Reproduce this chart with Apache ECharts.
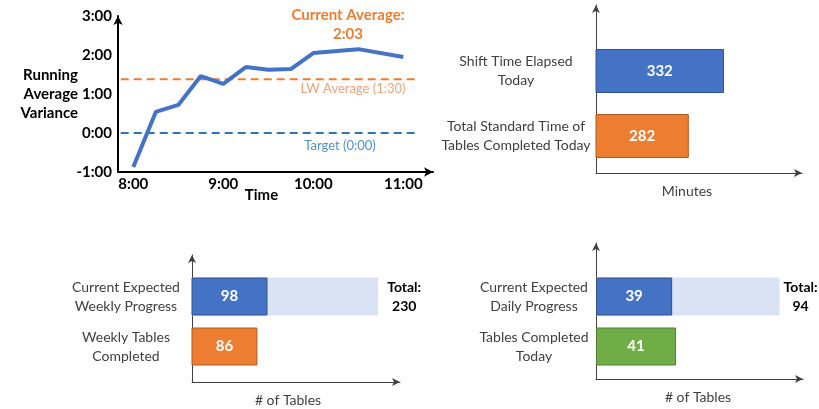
<!DOCTYPE html>
<html><head><meta charset="utf-8">
<script src="https://cdn.jsdelivr.net/npm/echarts@6/dist/echarts.min.js"></script>
<style>html,body{margin:0;padding:0;background:#fff}#c{width:819px;height:409px}</style>
</head><body><div id="c"></div>
<script>
// ---- Chart 1: running average variance (hours) ----
const timeHours = [8, 8.25, 8.5, 8.75, 9, 9.25, 9.5, 9.75, 10, 10.5, 11];
const variance = [-0.87, 0.54, 0.72, 1.46, 1.26, 1.69, 1.62, 1.64, 2.05, 2.15, 1.95];
const lwAverage = 1.38;
const targetValue = 0;
const refSpan = [7.86, 11.14];
const timeTicks = [8, 9, 10, 11];
const varianceTicks = [-1, 0, 1, 2, 3];
// ---- Chart 2: minutes ----
const minutesCats = ['Total Standard Time of\nTables Completed Today', 'Shift Time Elapsed\nToday'];
const minutesVals = [282, 332];
// ---- Chart 3: weekly tables ----
const weeklyCats = ['Weekly Tables\nCompleted', 'Current Expected\nWeekly Progress'];
const weeklyVals = [86, 98];
const weeklyTotal = [null, 230];
// ---- Chart 4: daily tables ----
const dailyCats = ['Tables Completed\nToday', 'Current Expected\nDaily Progress'];
const dailyVals = [41, 39];
const dailyTotal = [null, 94];

const FONT = 'Lato, "Noto Sans", sans-serif';
const BLUE = '#4472c4', ORANGE = '#ed7d31', GREEN = '#70ad47', LIGHT = '#dae3f3';
const BORDER = {[BLUE]: '#2f528f', [ORANGE]: '#ae5a21', [GREEN]: '#507e32'};
const AX = '#404040';

const chart = echarts.init(document.getElementById('c'), null, {renderer: 'canvas'});

function frameX(gi, min, max, name, pad) {
  return {gridIndex: gi, type: 'value', min: min, max: max,
    axisLine: {show: true, onZero: false, lineStyle: {color: AX, width: 1}, symbol: ['none', 'arrow'], symbolSize: [6, 8]},
    axisTick: {show: false}, axisLabel: {show: false}, splitLine: {show: false},
    name: name, nameLocation: 'middle', nameGap: 11, nameMoveOverlap: false,
    nameTextStyle: {fontFamily: FONT, fontSize: 14, color: AX, verticalAlign: 'top', padding: pad}};
}
function frameY(gi) {
  return {gridIndex: gi, type: 'value', min: 0, max: 1,
    axisLine: {show: true, onZero: false, lineStyle: {color: AX, width: 1}, symbol: ['none', 'arrow'], symbolSize: [6, 8]},
    axisTick: {show: false}, axisLabel: {show: false}, splitLine: {show: false}};
}
function hiddenX(gi, min, max) {
  return {gridIndex: gi, type: 'value', min: min, max: max, show: false, splitLine: {show: false}};
}
function catY(gi, cats, margin) {
  return {gridIndex: gi, type: 'category', data: cats,
    axisLine: {show: false}, axisTick: {show: false}, splitLine: {show: false},
    axisLabel: {align: 'center', margin: margin, fontFamily: FONT, fontSize: 14, lineHeight: 19, color: AX}};
}
function mainBar(xi, vals, colors, width) {
  return {type: 'bar', xAxisIndex: xi, yAxisIndex: xi, barWidth: width, barGap: '-100%', z: 3,
    data: vals.map((v, i) => ({value: v, itemStyle: {color: colors[i], borderColor: BORDER[colors[i]], borderWidth: 1}})),
    label: {show: true, position: 'inside', color: '#fff', fontFamily: FONT, fontWeight: 'bold', fontSize: 15}};
}
function totalBar(xi, vals, width, dist) {
  return {type: 'bar', xAxisIndex: xi, yAxisIndex: xi, barWidth: width, barGap: '-100%', z: 2,
    itemStyle: {color: LIGHT},
    data: vals,
    label: {show: true, position: 'right', distance: dist, align: 'center', formatter: 'Total:\n{c}',
      color: '#000', fontFamily: FONT, fontWeight: 'bold', fontSize: 14, lineHeight: 19}};
}

const option = {
  animation: false,
  backgroundColor: '#fff',
  textStyle: {fontFamily: FONT},
  grid: [
    {left: 118, top: 16, width: 315, height: 156, outerBoundsMode: 'none'},
    {left: 596, top: 5, width: 206, height: 168, outerBoundsMode: 'none'},
    {left: 596, top: 38.5, width: 206, height: 130, outerBoundsMode: 'none'},
    {left: 192, top: 255, width: 208, height: 127, outerBoundsMode: 'none'},
    {left: 192, top: 271.5, width: 208, height: 100, outerBoundsMode: 'none'},
    {left: 596, top: 243, width: 207, height: 136, outerBoundsMode: 'none'},
    {left: 596, top: 271.5, width: 207, height: 100, outerBoundsMode: 'none'}
  ],
  xAxis: [
    {gridIndex: 0, type: 'value', min: 7.83, max: 11.33,
      axisLine: {show: true, onZero: false, lineStyle: {color: '#000', width: 2}, symbol: ['none', 'arrow'], symbolSize: [7, 9]},
      axisTick: {show: false}, splitLine: {show: false},
      axisLabel: {customValues: timeTicks, formatter: v => Math.round(v) + ':00', fontFamily: FONT, fontWeight: 'bold', fontSize: 15, color: '#000', margin: 5},
      name: 'Time', nameLocation: 'middle', nameGap: 16, nameMoveOverlap: false,
      nameTextStyle: {fontFamily: FONT, fontWeight: 'bold', fontSize: 15, color: '#000', verticalAlign: 'top', padding: [0, 28, 0, 0]}},
    frameX(1, 150, 443, 'Minutes', [0, 24, 0, 0]),
    hiddenX(2, 150, 443),
    frameX(3, 8, 256, '# of Tables', [0, 16, 0, 0]),
    hiddenX(4, 8, 256),
    frameX(5, 0, 106, '# of Tables', [0, 3, 0, 0]),
    hiddenX(6, 0, 106)
  ],
  yAxis: [
    {gridIndex: 0, type: 'value', min: -1, max: 3,
      axisLine: {show: true, onZero: false, lineStyle: {color: '#000', width: 2}, symbol: ['none', 'arrow'], symbolSize: [7, 9]},
      axisTick: {show: false}, splitLine: {show: false},
      axisLabel: {customValues: varianceTicks, formatter: v => (v < 0 ? '-' : '') + Math.abs(v) + ':00', fontFamily: FONT, fontWeight: 'bold', fontSize: 15, color: '#000', margin: 6},
      name: 'Running\nAverage\nVariance', nameLocation: 'middle', nameRotate: 0, nameGap: 40, nameMoveOverlap: false,
      nameTextStyle: {fontFamily: FONT, fontWeight: 'bold', fontSize: 15, color: '#000', lineHeight: 19, align: 'right', padding: [16, 0, 0, 0]}},
    frameY(1),
    catY(2, minutesCats, 80),
    frameY(3),
    catY(4, weeklyCats, 66),
    frameY(5),
    catY(6, dailyCats, 62)
  ],
  graphic: [
    {type: 'text', x: 348, y: 24.5, style: {text: 'Current Average:\n2:03', align: 'center', verticalAlign: 'middle', fill: ORANGE, font: 'bold 15px ' + FONT, lineHeight: 19}},
    {type: 'text', x: 353, y: 89, style: {text: 'LW Average (1:30)', align: 'center', verticalAlign: 'middle', fill: '#eea47a', font: '13px ' + FONT}},
    {type: 'text', x: 340, y: 146, style: {text: 'Target (0:00)', align: 'center', verticalAlign: 'middle', fill: '#4f92d0', font: '13px ' + FONT}}
  ],
  series: [
    {type: 'line', xAxisIndex: 0, yAxisIndex: 0, symbol: 'none', z: 4,
      data: timeHours.map((t, i) => [t, variance[i]]),
      lineStyle: {color: BLUE, width: 4}},
    {type: 'line', xAxisIndex: 0, yAxisIndex: 0, symbol: 'none', z: 3,
      data: refSpan.map(t => [t, lwAverage]),
      lineStyle: {color: ORANGE, width: 2, type: [8, 5]}},
    {type: 'line', xAxisIndex: 0, yAxisIndex: 0, symbol: 'none', z: 3,
      data: refSpan.map(t => [t, targetValue]),
      lineStyle: {color: '#2e75b6', width: 2, type: [8, 5]}},
    mainBar(2, minutesVals, [ORANGE, BLUE], 44),
    totalBar(4, weeklyTotal, 38, 26),
    mainBar(4, weeklyVals, [ORANGE, BLUE], 38),
    totalBar(6, dailyTotal, 38, 21),
    mainBar(6, dailyVals, [GREEN, BLUE], 38)
  ]
};
chart.setOption(option);
</script>
</body></html>
